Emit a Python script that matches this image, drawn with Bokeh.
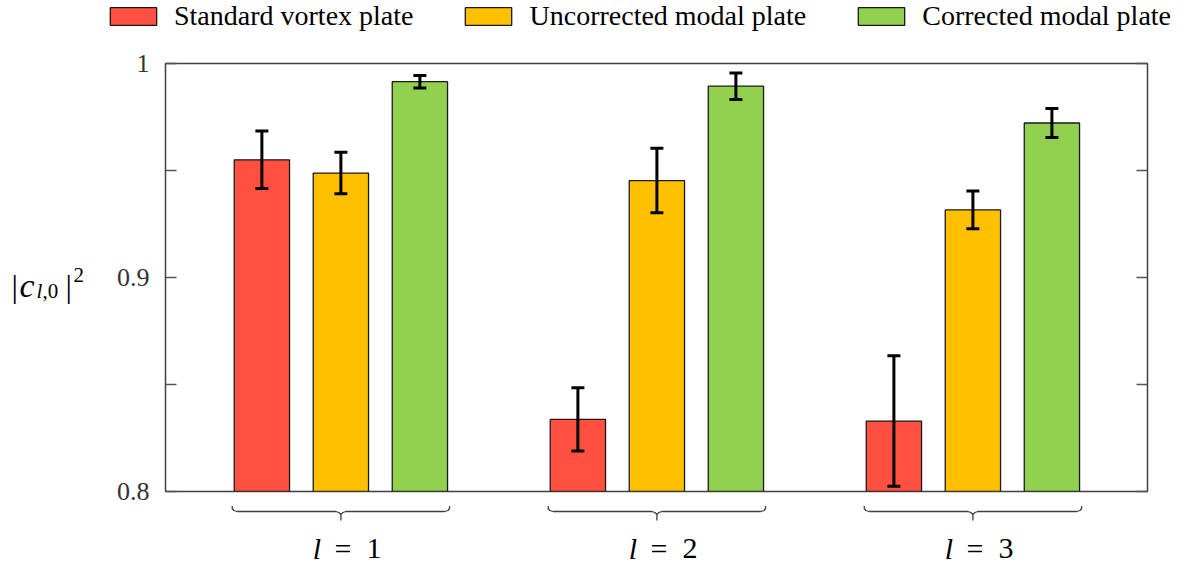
import numpy as np
from bokeh.plotting import figure
from bokeh.layouts import column, row
from bokeh.models import (ColumnDataSource, Range1d, FixedTicker, LinearAxis,
                          CustomJSTickFormatter, Whisker, TeeHead, Legend,
                          LegendItem)
from bokeh.core.properties import value
from bokeh.embed import file_html
from bokeh.resources import INLINE

# ---------------- data ----------------
groups = ["1", "2", "3"]
series = ["Standard vortex plate", "Uncorrected modal plate", "Corrected modal plate"]
standard = [0.9550, 0.8337, 0.8329]
standard_err = [0.0134, 0.0148, 0.0305]
uncorrected = [0.9488, 0.9453, 0.9316]
uncorrected_err = [0.0097, 0.0151, 0.0088]
corrected = [0.9915, 0.9894, 0.9722]
corrected_err = [0.0029, 0.0062, 0.0068]
y_ticks = [0.8, 0.9, 1.0]
y_minor_ticks = [0.85, 0.95]
colors = ["#FF5040", "#FFC000", "#92D050"]

values = [standard, uncorrected, corrected]
errors = [standard_err, uncorrected_err, corrected_err]

# ---------------- layout constants ----------------
W, H = 1178, 566
LEG_H = 40          # legend strip height
TITLE_W = 100       # y-title strip width
FRAME_L = 165       # chart frame edges on the canvas
FRAME_R = 1147
FRAME_T = 63
FRAME_B = 491
MAIN_H = FRAME_B + 14 - LEG_H
BOT_H = H - LEG_H - MAIN_H
X0, X1 = -1.22, 11.21
Y0, Y1 = 0.8, 1.0
XPX = (X1 - X0) / (FRAME_R - FRAME_L)
YPX = (Y1 - Y0) / (FRAME_B - FRAME_T)
GROUP_STEP = 4
BAR_W = 0.70
SERIF = "Liberation Serif"
AX_COL = "#555555"

x_range = Range1d(X0, X1)
y_range = Range1d(Y0, Y1)

def bare(fig):
    fig.grid.visible = False
    fig.outline_line_color = None
    fig.background_fill_color = "white"
    fig.border_fill_color = "white"
    return fig

# ---------------- main plot ----------------
p = figure(width=W - TITLE_W, height=MAIN_H, output_backend="svg",
           toolbar_location=None, x_range=x_range, y_range=y_range,
           x_axis_location=None, y_axis_location="left",
           min_border_left=FRAME_L - TITLE_W, min_border_right=W - FRAME_R,
           min_border_top=FRAME_T - LEG_H,
           min_border_bottom=MAIN_H - (FRAME_B - LEG_H))
p.grid.visible = False
p.outline_line_color = "#404040"
p.outline_line_width = 1.5
p.border_fill_color = "white"

ya = p.yaxis[0]
ya.ticker = FixedTicker(ticks=y_ticks, minor_ticks=y_minor_ticks)
ya.formatter = CustomJSTickFormatter(code="return String(Math.round(tick*100)/100);")
ra = LinearAxis(ticker=FixedTicker(ticks=y_ticks, minor_ticks=y_minor_ticks),
                formatter=CustomJSTickFormatter(code="return '';"),
                major_label_text_font_size="1px", major_label_standoff=0)
p.add_layout(ra, "right")
for ax in [ya, ra]:
    ax.axis_line_color = None
    ax.major_tick_in = 11
    ax.major_tick_out = 0
    ax.minor_tick_in = 11
    ax.minor_tick_out = 0
    ax.major_tick_line_color = AX_COL
    ax.minor_tick_line_color = AX_COL
    ax.major_tick_line_width = 1.3
    ax.minor_tick_line_width = 1.3
ya.major_label_text_font = SERIF
ya.major_label_text_font_size = "26px"
ya.major_label_text_color = "#333333"
ya.major_label_standoff = 16

# legend strip: its frame spans the whole strip width
lf = bare(figure(width=W, height=LEG_H, output_backend="svg", toolbar_location=None,
                 x_range=Range1d(0, W), y_range=Range1d(0, LEG_H),
                 x_axis_location=None, y_axis_location=None, min_border=0,
                 min_border_left=0, min_border_right=0,
                 min_border_top=0, min_border_bottom=0))

items = []
for s, (vals, errs) in enumerate(zip(values, errors)):
    xs = [GROUP_STEP * g + s for g in range(len(groups))]
    src = ColumnDataSource(dict(x=xs, top=vals,
                                upper=[v + e for v, e in zip(vals, errs)],
                                lower=[v - e for v, e in zip(vals, errs)]))
    p.vbar(x="x", top="top", bottom=Y0, width=BAR_W, source=src,
           fill_color=colors[s], line_color="#1a1a1a", line_width=1.3)
    w = Whisker(source=src, base="x", upper="upper", lower="lower",
                dimension="height", line_color="black", line_width=3,
                level="overlay",
                upper_head=TeeHead(size=13, line_width=3, line_color="black"),
                lower_head=TeeHead(size=13, line_width=3, line_color="black"))
    p.add_layout(w)
    # legend proxy (a NaN row, nothing visible), same style as the bars
    lr = lf.vbar(x=np.array([np.nan]), top=np.array([np.nan]), bottom=0, width=1,
                 fill_color=colors[s], line_color="#1a1a1a", line_width=1.3)
    items.append(LegendItem(label=series[s], renderers=[lr]))

# location = bottom-left corner of the legend, in frame pixels
legend = Legend(items=items, orientation="horizontal",
                location=(104, 8),
                glyph_width=58, glyph_height=22, label_standoff=12, spacing=46,
                padding=0, margin=0, border_line_alpha=0,
                background_fill_alpha=0,
                label_text_font=SERIF, label_text_font_size="28px",
                label_text_color="black")
lf.add_layout(legend)

# ---------------- y-axis title strip ----------------
tf = bare(figure(width=TITLE_W, height=MAIN_H, output_backend="svg",
                 toolbar_location=None, x_range=Range1d(0, TITLE_W), y_range=y_range,
                 x_axis_location=None, y_axis_location=None, min_border_left=0,
                 min_border_right=0, min_border_top=FRAME_T - LEG_H,
                 min_border_bottom=MAIN_H - (FRAME_B - LEG_H)))
title_txt = ["|", "c", "l", ",0", "|", "2"]
title_x = [11, 19, 36, 42, 65, 73]
title_dy = [8, 8, 13, 13, 8, -3]
title_style = ["normal", "italic", "italic", "normal", "normal", "normal"]
title_size = ["32px", "34px", "21px", "21px", "32px", "21px"]
tsrc = ColumnDataSource(dict(x=title_x, y=[0.9 - d * YPX for d in title_dy],
                             t=title_txt, st=title_style, sz=title_size))
tf.text(x="x", y="y", text="t", source=tsrc, text_font=value(SERIF),
        text_font_style="st", text_font_size="sz", text_align="left",
        text_baseline="alphabetic", text_color="black")

# ---------------- braces + group labels strip (full-width frame) ----------------
bf = bare(figure(width=W, height=BOT_H, output_backend="svg", toolbar_location=None,
                 x_range=Range1d(X0 - FRAME_L * XPX, X1 + (W - FRAME_R) * XPX),
                 y_range=Range1d(BOT_H, 0),
                 x_axis_location=None, y_axis_location=None, min_border=0,
                 min_border_left=0, min_border_right=0,
                 min_border_top=0, min_border_bottom=0))
top_px = FRAME_B - (LEG_H + MAIN_H)   # strip top relative to frame bottom (negative)
bx, by = [], []
for g in range(len(groups)):
    left = GROUP_STEP * g - BAR_W / 2 - 2 * XPX
    right = GROUP_STEP * g + 2 + BAR_W / 2 + 2 * XPX
    xc = GROUP_STEP * g + 1
    d = 5 * XPX
    pts = [(left, 14.5), (left, 17), (left + 1.5 * XPX, 19), (left + d, 20),
           (xc - d, 20), (xc - 2 * XPX, 21), (xc, 23), (xc, 29)]
    bx.append([q[0] for q in pts]); by.append([q[1] + top_px for q in pts])
    pts_r = [(xc, 23), (xc + 2 * XPX, 21), (xc + d, 20),
             (right - d, 20), (right - 1.5 * XPX, 19), (right, 17), (right, 14.5)]
    bx.append([q[0] for q in pts_r]); by.append([q[1] + top_px for q in pts_r])
bf.multi_line(xs=bx, ys=by, line_color="#404040", line_width=1.3)

centers = [GROUP_STEP * g + 1 for g in range(len(groups))]
ly = 57 + top_px
bf.text(x=[c - 24 * XPX for c in centers], y=[ly] * len(groups),
        text=["l"] * len(groups), text_font=value(SERIF), text_font_style="italic",
        text_font_size="30px", text_align="center", text_baseline="middle",
        text_color="black")
bf.text(x=[c + 2 * XPX for c in centers], y=[ly] * len(groups),
        text=["="] * len(groups), text_font=value(SERIF),
        text_font_size="30px", text_align="center", text_baseline="middle",
        text_color="black")
bf.text(x=[c + 33 * XPX for c in centers], y=[ly] * len(groups),
        text=groups, text_font=value(SERIF),
        text_font_size="30px", text_align="center", text_baseline="middle",
        text_color="black")

layout = column(lf, row(tf, p, spacing=0), bf, spacing=0)
open("out.html", "w").write(file_html(layout, INLINE))
